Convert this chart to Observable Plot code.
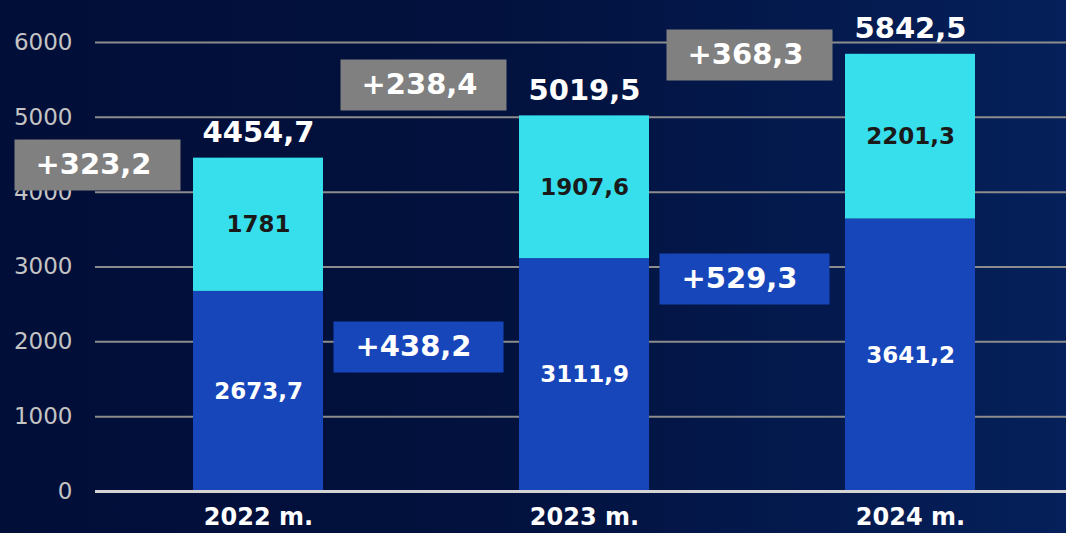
<!DOCTYPE html>
<html>
<head>
<meta charset="utf-8">
<script src="https://cdn.jsdelivr.net/npm/d3@7"></script>
<script src="https://cdn.jsdelivr.net/npm/@observablehq/plot@0.6"></script>
<style>
  html, body { margin: 0; padding: 0; }
  #chart {
    width: 1066px; height: 533px; overflow: hidden;
    background: linear-gradient(90deg, #010e38 0%, #02113d 45%, #05205a 100%);
  }
</style>
</head>
<body>
<div id="chart"></div>
<script>
const years = ["2022 m.", "2023 m.", "2024 m."];
const baseValues = [2673.7, 3111.9, 3641.2];
const topValues = [1781, 1907.6, 2201.3];
const grayChanges = ["+323,2", "+238,4", "+368,3"];
const grayAnchors = [4363, 5432, 5833];
const blueYears = ["2023 m.", "2024 m."];
const blueChanges = ["+438,2", "+529,3"];
const blueAnchors = [1931, 2840];
const yTicks = [0, 1000, 2000, 3000, 4000, 5000, 6000];

const fmt = v => String(Math.round(v * 10) / 10).replace(".", ",");

const bars = years.map((year, i) => ({
  year, base: baseValues[i], top: topValues[i], total: baseValues[i] + topValues[i]
}));
const grayRows = years.map((year, i) => ({ year, label: grayChanges[i], at: grayAnchors[i] }));
const blueRows = blueYears.map((year, i) => ({ year, label: blueChanges[i], at: blueAnchors[i] }));

const grayBox = { draw(context) { context.rect(-83, -25.5, 166, 51); } };
const blueBox = { draw(context) { context.rect(-85, -25.5, 170, 51); } };

const chart = Plot.plot({
  width: 1066,
  height: 533,
  marginLeft: 95,
  marginRight: 0,
  marginTop: 42,
  marginBottom: 42,
  style: { background: "transparent", fontFamily: "DejaVu Sans", overflow: "visible" },
  x: { type: "band", domain: years, range: [95, 1073], paddingInner: 0.6, paddingOuter: 0.3 },
  y: { domain: [0, 6000] },
  marks: [
    Plot.ruleY(yTicks.filter(d => d > 0), { stroke: "#8c8c8c", strokeWidth: 2 }),
    Plot.axisY(yTicks, { tickSize: 0, tickPadding: 23, fontSize: 23, color: "#c4c4c4",
      label: null, tickFormat: d => String(d) }),
    Plot.axisX({ tickSize: 0, tickPadding: 16, fontSize: 24, fontWeight: "bold", color: "white", label: null }),
    Plot.barY(bars, { x: "year", y1: 0, y2: "base", fill: "#1746bb" }),
    Plot.barY(bars, { x: "year", y1: "base", y2: "total", fill: "#36dfeb" }),
    Plot.ruleY([0], { stroke: "#d4d4d4", strokeWidth: 3 }),
    Plot.text(bars, { x: "year", y: d => d.base / 2, text: d => fmt(d.base),
      fill: "white", fontSize: 23, fontWeight: "bold" }),
    Plot.text(bars, { x: "year", y: d => d.base + d.top / 2, text: d => fmt(d.top),
      fill: "#1a1a1a", fontSize: 23, fontWeight: "bold" }),
    Plot.text(bars, { x: "year", y: "total", text: d => fmt(d.total), dy: -16, lineAnchor: "bottom",
      fill: "white", fontSize: 29, fontWeight: "bold" }),
    Plot.dot(grayRows, { x: "year", y: "at", dx: -161, symbol: grayBox, fill: "#808080" }),
    Plot.text(grayRows, { x: "year", y: "at", dx: -165, text: "label",
      fill: "white", fontSize: 29, fontWeight: "bold" }),
    Plot.dot(blueRows, { x: "year", y: "at", dx: -166, symbol: blueBox, fill: "#1746bb" }),
    Plot.text(blueRows, { x: "year", y: "at", dx: -171, text: "label",
      fill: "white", fontSize: 29, fontWeight: "bold" })
  ]
});
document.getElementById("chart").appendChild(chart);
</script>
</body>
</html>
